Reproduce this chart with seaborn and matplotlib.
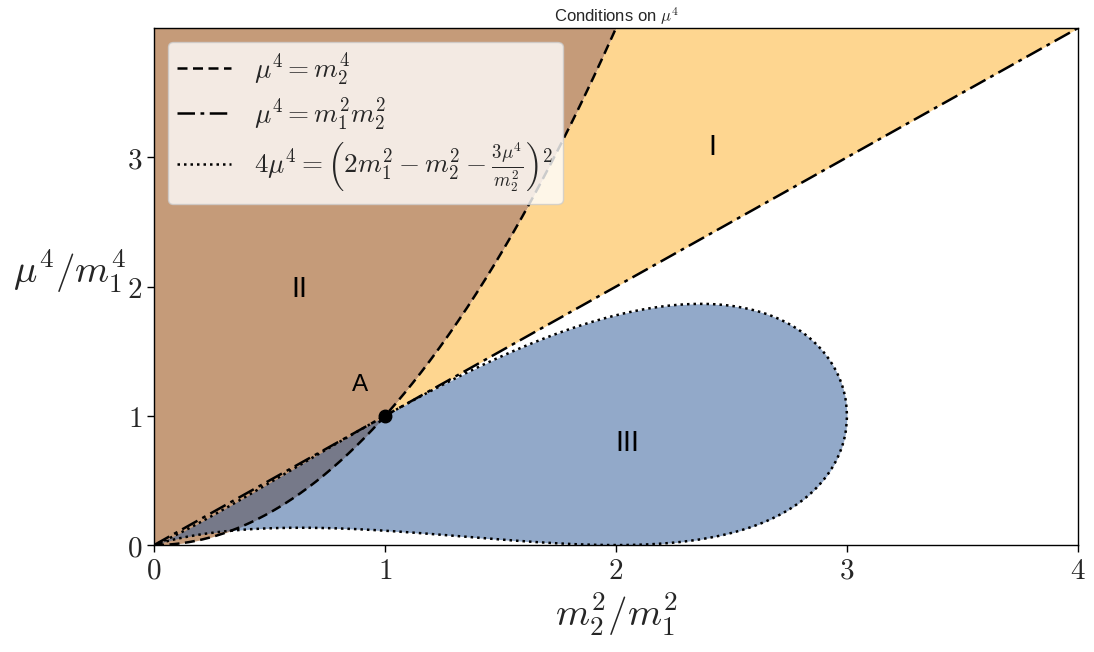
"""Conditions on mu^4 -- region plot"""

import numpy as np
import matplotlib
matplotlib.use("Agg")
import matplotlib.pyplot as plt
import seaborn as sns

# units: m1 = 1, x = m2^2/m1^2, y = mu^4/m1^4
m1 = 1.0
x_lim = (0.0, 4.0)
y_lim = (0.0, 4.0)
x_ticks = [0, 1, 2, 3, 4]
y_ticks = [0, 1, 2, 3]

region_names = ["I", "II", "III"]
region_x = [2.416, 0.63, 2.05]
region_y = [3.08, 1.98, 0.79]

point_name = "A"
point_a = (1.0, 1.0)
point_label_at = (0.892, 1.24)

label_parab = r"$\mu^4 = m_2^4$"
label_line = r"$\mu^4 = m_1^2 m_2^2$"
label_loop = r"$4\mu^4 = \left(2m_1^2 - m_2^2 - \frac{3\mu^4}{m_2^2}\right)^2$"

sns.set_theme(style="ticks")
plt.rcParams["font.family"] = ["DejaVu Sans"]
plt.rcParams["mathtext.fontset"] = "cm"
sans = ["Liberation Sans", "DejaVu Sans"]

# curves from the equations in the legend
x = np.linspace(x_lim[0], x_lim[1], 801)
y_parab = x ** 2 / m1 ** 2
y_line = x * m1 ** 2 / m1 ** 2

xl = np.linspace(0.0, 3.0 * m1 ** 2, 801)
root = np.sqrt(np.clip(2 * xl * (3 - xl), 0, None))
y_up = ((root + xl) / 3) ** 2
y_lo = ((root - xl) / 3) ** 2

fig, ax = plt.subplots(figsize=(10.94, 6.52), dpi=100)
fig.subplots_adjust(left=0.1408, right=0.9854, top=0.957, bottom=0.164)

# regions
ax.fill_between(x, np.minimum(y_parab, y_lim[1]), y_lim[1], color="#c59b79", lw=0)
ax.fill_between(x, np.minimum(y_parab, y_lim[1]), y_line,
                where=(x >= 1), color="#fed690", lw=0)
ax.fill_between(xl, y_lo, y_up, color="#2f5a98", alpha=0.52, lw=0)

# boundary curves
sns.lineplot(x=x, y=y_parab, ax=ax, color="black", lw=1.8, ls=(0, (4, 2.2)),
             label=label_parab, sort=False, estimator=None)
sns.lineplot(x=x, y=y_line, ax=ax, color="black", lw=1.8, ls=(0, (7, 2.2, 1.5, 2.2)),
             label=label_line, sort=False, estimator=None)
loop_x = np.concatenate([xl, xl[::-1]])
loop_y = np.concatenate([y_lo, y_up[::-1]])
sns.lineplot(x=loop_x, y=loop_y, ax=ax, color="black", lw=1.8, ls=(0, (1, 1.6)),
             label=label_loop, sort=False, estimator=None)

ax.plot(*point_a, "o", color="black", ms=9, zorder=5)

for name, tx, ty in zip(region_names, region_x, region_y):
    ax.text(tx, ty, name, fontsize=21, family=sans, ha="center", va="center",
            color="black")
ax.text(*point_label_at, point_name, fontsize=17.5, family=sans, ha="center",
        va="center", color="black")

ax.set_xlim(*x_lim)
ax.set_ylim(*y_lim)
ax.set_xticks(x_ticks, labels=[f"${t}$" for t in x_ticks])
ax.set_yticks(y_ticks, labels=[f"${t}$" for t in y_ticks])
ax.tick_params(labelsize=21, length=5, width=1, color="black", direction="out")
for s in ax.spines.values():
    s.set_color("black")
    s.set_linewidth(1.0)

ax.set_xlabel(r"$m_2^2/m_1^2$", fontsize=28, labelpad=4)
ax.set_ylabel(r"$\mu^4/m_1^4$", fontsize=28, rotation=0, ha="center", va="center")
ax.yaxis.set_label_coords(-0.091, 0.53)
ax.set_title(r"Conditions on $\mu^4$", fontsize=12, family=sans, pad=4)

leg = ax.legend(loc="upper left", fontsize=19.5, handlelength=2.0, handletextpad=0.85,
                framealpha=0.8, edgecolor="#cccccc", labelspacing=0.3, borderpad=0.35,
                borderaxespad=0.5)
leg.get_frame().set_facecolor("white")

plt.savefig("out.png", dpi=100)
plt.close()
